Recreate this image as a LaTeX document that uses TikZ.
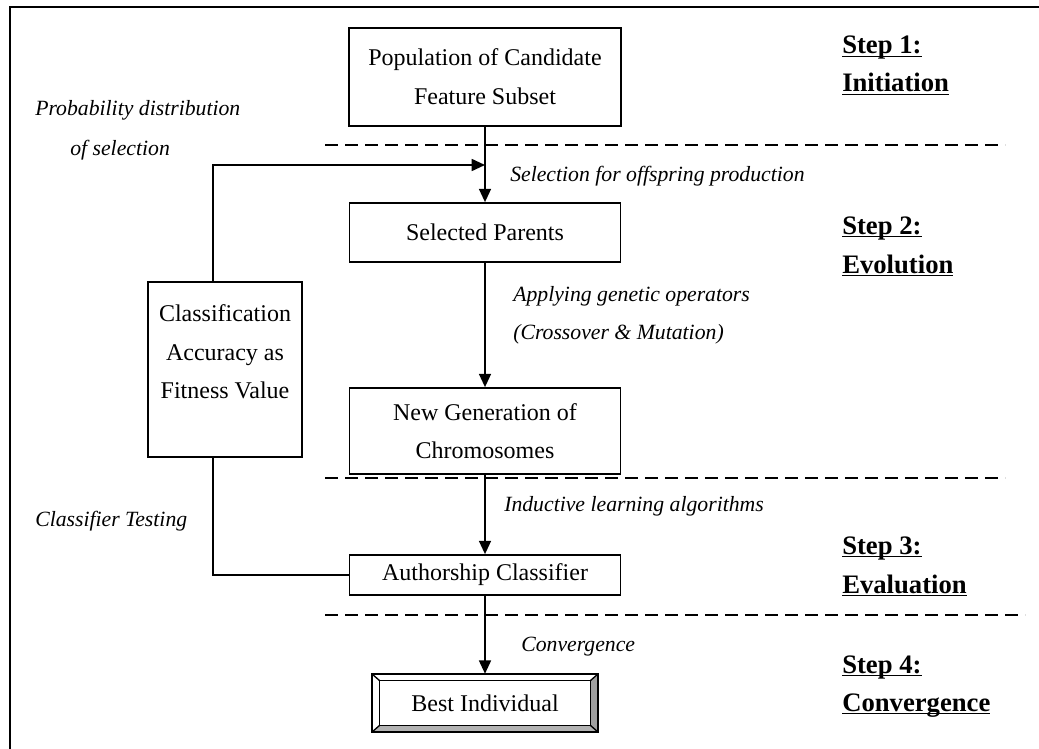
\documentclass[tikz,border=0pt]{standalone}
\usepackage{fontspec}
\setmainfont{Liberation Serif}
\usetikzlibrary{arrows.meta,calc}
\begin{document}
\begin{tikzpicture}[x=0.75pt,y=-0.75pt,
  box/.style={draw,line width=1.3pt,align=center,inner sep=0pt,
    font=\fontsize{18}{29}\selectfont},
  txt/.style={align=center,inner sep=0pt,font=\fontsize{18}{29}\selectfont},
  conn/.style={line width=1.3pt},
  arr/.style={line width=1.3pt,-{Triangle[length=10pt,width=9pt]}},
  dline/.style={line width=1.3pt,dash pattern=on 10pt off 5pt},
  lab/.style={anchor=base west,inner sep=0pt,font=\fontsize{16.3}{20}\selectfont\itshape},
  steplab/.style={anchor=base west,inner sep=0pt,font=\fontsize{20}{24}\selectfont\bfseries},
]
\useasboundingbox (0,0) rectangle (1039,749);
\fill[white] (0,0) rectangle (1039,749);
% outer frame
\draw[line width=1.6pt] (1045,7) -- (10,7) -- (10,755);

% boxes
\node[box,minimum width=204pt,minimum height=73.5pt] (pop) at (485,77) {Population of Candidate\\Feature Subset};
\node[box,minimum width=203.25pt,minimum height=44.25pt] (sel) at (485,232.5) {Selected Parents};
\node[box,minimum width=203.25pt,minimum height=64.5pt] (newg) at (485,431) {New Generation of\\Chromosomes};
\node[box,minimum width=203.25pt,minimum height=30pt] (auth) at (485,575) {Authorship Classifier};
\node[box,minimum width=115.5pt,minimum height=131.25pt] (cls) at (225,369.5) {};
\node[txt] (clstext) at (225,352) {Classification\\Accuracy as\\Fitness Value};

% best individual (bevelled)
\node[minimum width=169.5pt,minimum height=43.5pt,inner sep=0pt,font=\fontsize{18}{29}\selectfont] (best) at (485,703) {Best Individual};
\coordinate (bnw) at ($(best.north west)+(8,7)$);
\coordinate (bne) at ($(best.north east)+(-8,7)$);
\coordinate (bsw) at ($(best.south west)+(8,-7)$);
\coordinate (bse) at ($(best.south east)+(-8,-7)$);
\fill[gray!75] (best.north east) -- (best.south east) -- (bse) -- (bne) -- cycle;
\fill[gray!60] (best.south west) -- (best.south east) -- (bse) -- (bsw) -- cycle;
\draw[line width=1.3pt] (best.north west) rectangle (best.south east);
\draw[line width=1.1pt] (bnw) rectangle (bse);
\draw[line width=1pt] (best.north west) -- (bnw) (best.north east) -- (bne)
  (best.south west) -- (bsw) (best.south east) -- (bse);

% connectors
\coordinate (fb) at (213,165);
\draw[arr] (pop.south) -- (sel.north);
\draw[arr] (cls.north -| fb) -- (fb) -- (fb -| pop.south);
\draw[arr] (sel.south) -- (newg.north);
\draw[arr] (newg.south) -- (auth.north);
\draw[conn] (cls.south -| fb) |- (auth.west);
\draw[arr] (auth.south) -- (best.north);

% dashed separators
\coordinate (d1a) at (325,145); \coordinate (d1b) at (1005,145);
\coordinate (d2a) at (325,478); \coordinate (d2b) at (1005,478);
\coordinate (d3a) at (325,615); \coordinate (d3b) at (1025,615);
\draw[dline] (d1a) -- (d1b);
\draw[dline] (d2a) -- (d2b);
\draw[dline] (d3a) -- (d3b);

% italic labels
\node[lab] (l1) at (35,116) {Probability distribution};
\node[lab] (l2) at (70,156) {of selection};
\node[lab] (l3) at (510,181) {Selection for offspring production};
\node[lab] (l4) at (513,301) {Applying genetic operators};
\node[lab] (l5) at (513,339) {(Crossover \& Mutation)};
\node[lab] (l6) at (35,526) {Classifier Testing};
\node[lab] (l7) at (504,511) {Inductive learning algorithms};
\node[lab] (l8) at (521,651) {Convergence};

% step labels
\node[steplab] (s1a) at (842,54) {\underline{\smash{Step 1:}}};
\node[steplab] (s1b) at (842,92) {\underline{\smash{Initiation}}};
\node[steplab] (s2a) at (842,234) {\underline{\smash{Step 2:}}};
\node[steplab] (s2b) at (842,273) {\underline{\smash{Evolution}}};
\node[steplab] (s3a) at (842,554) {\underline{\smash{Step 3:}}};
\node[steplab] (s3b) at (842,593) {\underline{\smash{Evaluation}}};
\node[steplab] (s4a) at (842,673) {\underline{\smash{Step 4:}}};
\node[steplab] (s4b) at (842,711) {\underline{\smash{Convergence}}};
\end{tikzpicture}
\end{document}
